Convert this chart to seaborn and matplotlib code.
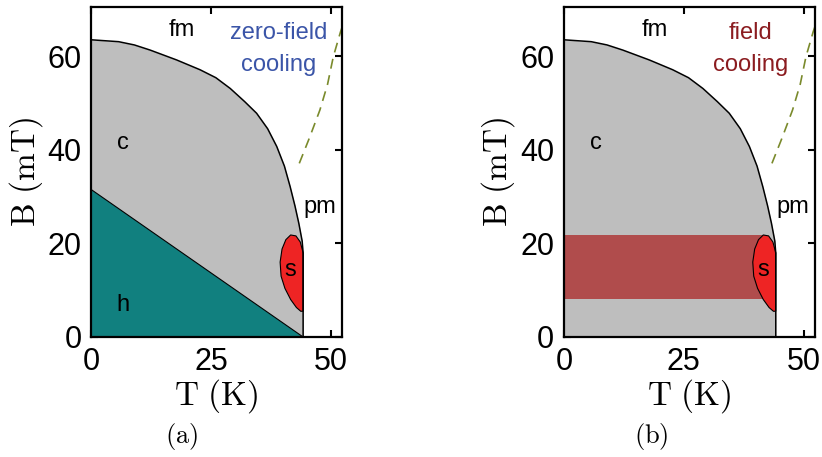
import numpy as np
import pandas as pd
import matplotlib
matplotlib.use("Agg")
import matplotlib.pyplot as plt
import seaborn as sns

# ---------- DATA ----------
# fm / c phase boundary
boundary_T = [0, 5.7, 9.0, 12.3, 17.8, 22.7, 26.0, 29.0, 32.0, 34.5, 36.8, 38.7, 40.3, 41.5, 42.5, 43.3, 44.0, 44.2, 44.2]
boundary_B = [63.5, 63.1, 62.4, 61.3, 59.2, 57.1, 55.4, 53.1, 50.3, 47.8, 44.5, 40.7, 36.5, 32.1, 28.0, 24.3, 20.5, 17.9, 0]

# helical / conical boundary (straight line)
helical_T = [0, 44.2]
helical_B = [31.5, 0]

# skyrmion pocket outline
pocket_T = [44.2, 43.6, 42.7, 41.6, 40.6, 39.8, 39.4, 39.6, 40.4, 41.6, 42.8, 43.7, 44.2, 44.2]
pocket_B = [18.0, 20.3, 21.6, 21.8, 20.8, 18.8, 16.0, 13.0, 10.4, 8.0, 6.3, 5.5, 5.5, 18.0]

# dashed crossover line in the pm region
dashed_T = [43.4, 45.5, 47.7, 49.3, 50.5, 52.0, 52.6]
dashed_B = [37.1, 42.5, 48.5, 54.0, 59.9, 65.2, 67.0]

# field-cooling band (panel b)
band_T = [0, 42]
band_B = [8.1, 21.7]

x_ticks = [0, 25, 50]
y_ticks = [0, 20, 40, 60]

# phase labels: (text, T, B)
phase_labels = [("fm", 18.9, 65.6), ("c", 6.7, 41.4), ("pm", 47.7, 27.8), ("s", 41.6, 14.3)]

GRAY = "#bebebe"
TEAL = "#11807f"
RED = "#ee2424"
BAND = "#b04c4c"
OLIVE = "#7a8a2c"
BLUE = "#3b55a8"
DARKRED = "#8b1c20"

# ---------- STYLE ----------
sns.set_style("ticks")
plt.rcParams["font.family"] = ["Liberation Sans", "DejaVu Sans"]
plt.rcParams["mathtext.fontset"] = "cm"
for key in ["text.color", "axes.labelcolor", "xtick.color", "ytick.color", "axes.edgecolor"]:
    plt.rcParams[key] = "black"

fig = plt.figure(figsize=(8.22, 4.57), dpi=100)
ax_a = fig.add_axes([0.111, 0.2626, 0.305, 0.722])
ax_b = fig.add_axes([0.686, 0.2626, 0.305, 0.722])

df_boundary = pd.DataFrame({"T": boundary_T, "B": boundary_B})
df_dashed = pd.DataFrame({"T": dashed_T, "B": dashed_B})


def draw_panel(ax, field_cooled):
    ax.fill_between(boundary_T, boundary_B, 0, color=GRAY, lw=0, zorder=1)
    if field_cooled:
        ax.fill_between(band_T, band_B[0], band_B[1], color=BAND, lw=0, zorder=2)
    else:
        ax.fill_between(helical_T, helical_B, 0, color=TEAL, lw=0, zorder=2)
        ax.plot(helical_T, helical_B, color="black", lw=0.8, zorder=3)
    ax.fill(pocket_T, pocket_B, facecolor=RED, edgecolor="black", lw=0.8, zorder=4)
    sns.lineplot(data=df_boundary, x="T", y="B", sort=False, estimator=None,
                 color="black", lw=1.1, ax=ax, zorder=5)
    sns.lineplot(data=df_dashed, x="T", y="B", sort=False, estimator=None,
                 color=OLIVE, lw=1.2, ax=ax, zorder=5)
    ax.lines[-1].set_dashes([6, 4])

    for txt, t, b in phase_labels:
        ax.text(t, b, txt, fontsize=17, ha="center", va="center", zorder=6)
    colour = DARKRED if field_cooled else BLUE
    if not field_cooled:
        ax.text(6.7, 6.8, "h", fontsize=17, ha="center", va="center", zorder=6)
        ax.text(39.0, 64.9, "zero-field", fontsize=17, color=colour,
                ha="center", va="center", zorder=6)
    else:
        ax.text(39.0, 64.9, "field", fontsize=17, color=colour,
                ha="center", va="center", zorder=6)
    ax.text(39.0, 58.1, "cooling", fontsize=17, color=colour,
            ha="center", va="center", zorder=6)

    ax.set_xlim(0, 52.3)
    ax.set_ylim(0, 70.5)
    ax.set_xticks(x_ticks)
    ax.set_yticks(y_ticks)
    ax.tick_params(direction="in", length=5, width=1.5, labelsize=22,
                   top=True, right=True, pad=7)
    for sp in ax.spines.values():
        sp.set_visible(True)
        sp.set_linewidth(1.6)
        sp.set_zorder(10)
    ax.set_xlabel(r"$\mathrm{T\ (K)}$", fontsize=24, labelpad=0)
    ax.set_ylabel(r"$\mathrm{B\ (mT)}$", fontsize=24, labelpad=2)


draw_panel(ax_a, False)
draw_panel(ax_b, True)

fig.text(181.7 / 822, 0.044, r"$\mathrm{(a)}$", fontsize=19, ha="center", va="center")
fig.text(651.7 / 822, 0.044, r"$\mathrm{(b)}$", fontsize=19, ha="center", va="center")

fig.savefig("out.png", dpi=100)
